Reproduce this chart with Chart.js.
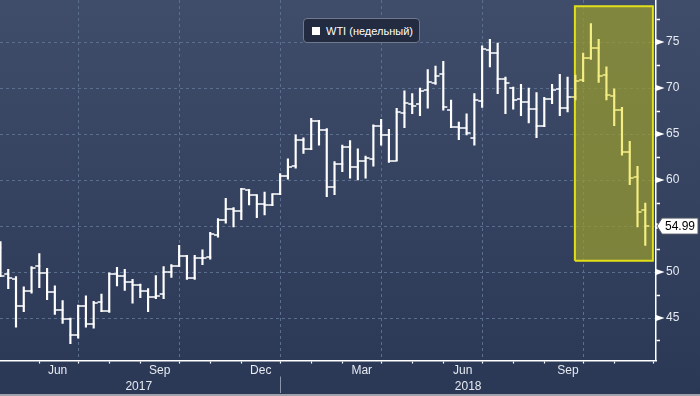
<!DOCTYPE html>
<html><head><meta charset="utf-8">
<script src="https://cdn.jsdelivr.net/npm/chart.js@4.4.1/dist/chart.umd.min.js"></script>
<style>
html,body{margin:0;padding:0;background:#2c3a57;}
#wrap{position:relative;width:700px;height:396px;overflow:hidden;}
#legend{position:absolute;left:303px;top:18px;width:117px;height:25px;box-sizing:border-box;border:1px solid #6f7a8f;border-radius:4px;background:#222b40;color:#ffffff;font:11px "Liberation Sans",Arial,sans-serif;display:flex;align-items:center;}
#legend .sw{display:inline-block;width:8px;height:8px;background:#ffffff;margin-left:8px;margin-right:6px;}
</style></head>
<body><div id="wrap"><canvas id="c" width="700" height="396"></canvas><div id="legend"><span class="sw"></span><span id="legtxt"></span></div></div>
<script>
const seriesName = 'WTI (недельный)';
// weekly OHLC, week 0 = week ending 21 Apr 2017
const opens = [52.6,49.8,49.2,46.3,47.9,50.6,49.9,47.8,45.9,44.9,
43.1,46.3,44.3,46.7,45.8,49.8,49.6,48.9,48.6,47.9,
47.3,47.6,50.0,50.7,51.7,49.3,51.5,51.6,54.0,55.7,
56.8,56.6,58.9,58.4,57.4,57.3,58.5,60.4,61.5,64.3,
63.4,66.4,65.4,59.2,61.7,63.6,61.4,62.1,62.3,65.9,
64.9,62.1,67.3,68.3,68.3,69.8,70.6,71.5,67.6,65.8,
65.7,64.6,68.6,74.1,73.8,71.0,70.0,68.8,68.5,67.7,
65.9,68.8,69.9,67.8,69.0,70.9,73.3,74.4,71.4,69.1,
67.6,63.1,60.3,56.7];
const highs = [53.3,50.3,49.5,48.4,50.6,52.0,50.4,48.5,46.9,45.0,
46.4,47.4,46.8,47.6,49.9,50.5,50.3,49.2,48.7,48.2,
49.6,50.6,50.8,52.9,51.8,51.8,52.4,54.3,55.8,58.0,
57.0,59.1,59.0,58.4,58.7,58.5,60.7,62.3,64.9,64.6,
66.7,66.5,65.6,62.0,63.8,64.3,63.4,62.6,66.0,66.6,
65.5,67.8,69.7,69.4,70.0,72.0,72.4,72.9,68.7,66.3,
67.2,69.4,74.6,75.3,74.9,71.2,70.1,70.4,70.0,69.5,
69.0,70.4,71.5,71.2,71.4,73.8,77.0,75.3,72.3,69.9,
67.9,64.2,61.5,57.5];
const lows = [49.5,48.2,44.0,45.7,47.7,48.3,47.0,45.4,44.4,42.2,
42.8,44.0,43.9,45.7,45.6,48.5,48.0,46.6,47.2,45.7,
47.1,47.1,49.4,50.6,49.2,49.2,50.8,51.4,53.8,55.3,
54.9,55.7,57.3,55.9,56.2,57.2,58.4,60.1,61.3,62.9,
63.3,63.8,58.2,58.4,60.9,60.2,60.0,60.2,61.5,63.8,
61.9,62.1,65.7,67.2,67.0,67.8,70.4,67.6,65.7,64.4,
64.9,63.8,67.9,72.3,69.4,67.2,67.7,67.0,66.2,64.6,
65.8,68.3,67.0,67.4,68.7,70.7,73.1,70.6,68.7,65.9,
62.7,59.5,54.9,52.9];
const closes = [49.6,49.4,46.3,47.9,50.4,49.9,47.8,45.9,44.9,43.1,
46.3,44.3,46.6,45.8,49.8,49.6,48.9,48.6,47.9,47.3,
47.4,50.0,50.7,51.7,49.3,51.5,51.5,54.1,55.7,56.8,
56.6,59.0,58.4,57.4,57.3,58.5,60.4,61.4,64.3,63.4,
66.4,65.4,59.2,61.7,63.6,61.4,62.1,62.4,65.9,64.9,
62.1,67.4,68.4,68.1,69.7,70.7,71.3,67.9,65.8,65.7,
65.1,68.7,74.2,73.8,71.0,70.6,68.7,68.5,67.7,65.9,
68.8,69.8,67.8,69.0,70.8,73.3,74.3,71.3,69.2,67.6,
63.1,60.2,56.5,54.99];
const monthTickWeeks = [5,10,14,18,23,27,31,36,40,44,49,53,57,62,66,70,75,79,84];
const quarterTickWeeks = [10,23,36,49,62,75];
const monthLabels = ['Jun','Sep','Dec','Mar','Jun','Sep'];
const monthLabelWeeks = [7.35,20.5,33.5,46.5,59.5,73.05];
const yearLabels = ['2017','2018'];
const yearLabelWeeks = [17.8,60.2];
const yearBreakWeek = 36;
const priceTickValues = [42.5,45,47.5,50,52.5,55,57.5,60,62.5,65,67.5,70,72.5,75,77.5];
const highlightWeeks = [73.94, 83.98];
const highlightPrices = [51.23, 78.9];
const highlightFromWeek = 74;

const FONT = "'Liberation Sans', Arial, sans-serif";
const gridColor = '#5a6f8e';
const WHITE = '#ffffff', YEL = '#f4ee84';
document.getElementById('legtxt').textContent = seriesName;

function tickImg(color, side){
  const c = document.createElement('canvas'); c.width = 10; c.height = 2;
  const g = c.getContext('2d'); g.fillStyle = color;
  if (side === 'open') g.fillRect(1,0.25,4.6,1.5); else g.fillRect(4.4,0.25,4.6,1.5);
  return c;
}
const imgs = {ow: tickImg(WHITE,'open'), cw: tickImg(WHITE,'close'), oy: tickImg(YEL,'open'), cy: tickImg(YEL,'close')};
const idx = opens.map((_, i) => i);
const inBox = i => i >= highlightFromWeek;

const deco = {
  id: 'deco',
  beforeDraw(chart){
    const {ctx, width, height} = chart;
    const g = ctx.createLinearGradient(0,0,0,height);
    g.addColorStop(0,'#3f4d6b'); g.addColorStop(1,'#2a3856');
    ctx.save(); ctx.fillStyle = g; ctx.fillRect(0,0,width,height);
    ctx.fillStyle = '#9ea2ab'; ctx.fillRect(0,height-2,width,2); ctx.restore();
  },
  afterDraw(chart){
    const {ctx, height} = chart; const ys = chart.scales.y, xs = chart.scales.x, xy = chart.scales.xy;
    ctx.save();
    ctx.fillStyle = '#ffffff';
    priceTickValues.filter(v => v % 5 === 0).forEach(v => {
      const y = ys.getPixelForValue(v);
      ctx.beginPath(); ctx.moveTo(ys.left, y-3); ctx.lineTo(ys.left+8.5, y); ctx.lineTo(ys.left, y+3); ctx.closePath(); ctx.fill();
    });
    const xb = Math.round(xs.getPixelForValue(yearBreakWeek)) + 0.5;
    ctx.strokeStyle = '#8b95a8'; ctx.lineWidth = 1;
    ctx.beginPath(); ctx.moveTo(xb, xy.top - 1); ctx.lineTo(xb, height - 3); ctx.stroke();
    const last = closes[closes.length-1]; const ty = ys.getPixelForValue(last);
    const L = ys.left + 1;
    ctx.beginPath(); ctx.moveTo(L, ty); ctx.lineTo(L+5, ty-8); ctx.lineTo(698, ty-8); ctx.lineTo(698, ty+8); ctx.lineTo(L+5, ty+8); ctx.closePath();
    ctx.fillStyle = '#ffffff'; ctx.fill(); ctx.strokeStyle = '#555b66'; ctx.lineWidth = 1; ctx.stroke();
    ctx.fillStyle = '#000000'; ctx.font = '12px ' + FONT; ctx.textBaseline = 'middle'; ctx.textAlign = 'left';
    ctx.fillText(last.toFixed(2), L + 8, ty + 0.5);
    ctx.restore();
  }
};

new Chart(document.getElementById('c'), {
  type: 'scatter',
  data: { datasets: [
    { type:'line', label:'box', data:[{x:highlightWeeks[0], y:highlightPrices[1]},{x:highlightWeeks[1], y:highlightPrices[1]}],
      fill:{value: highlightPrices[0]}, backgroundColor:'rgba(154,156,46,0.72)', borderWidth:0, pointRadius:0, order:10 },
    { type:'line', label:'boxBorder', data:[{x:highlightWeeks[0],y:highlightPrices[0]},{x:highlightWeeks[0],y:highlightPrices[1]},{x:highlightWeeks[1],y:highlightPrices[1]},{x:highlightWeeks[1],y:highlightPrices[0]},{x:highlightWeeks[0],y:highlightPrices[0]}],
      fill:false, borderColor:'#e2de18', borderWidth:2, pointRadius:0, tension:0, borderJoinStyle:'miter', order:9 },
    { type:'bar', label:seriesName, data: idx.map(i => ({x:i, y:[lows[i], highs[i]]})),
      backgroundColor: c => inBox(c.dataIndex) ? YEL : WHITE, borderWidth:0, barThickness:1.5, order:2 },
    { type:'scatter', label:'open', data: idx.map(i => ({x:i, y:opens[i]})),
      pointStyle: c => inBox(c.dataIndex) ? imgs.oy : imgs.ow, pointRadius:3, order:1 },
    { type:'scatter', label:'close', data: idx.map(i => ({x:i, y:closes[i]})),
      pointStyle: c => inBox(c.dataIndex) ? imgs.cy : imgs.cw, pointRadius:3, order:1 }
  ]},
  options: {
    responsive:false, devicePixelRatio:1, animation:false,
    layout:{padding:0, autoPadding:false},
    plugins:{legend:{display:false}, tooltip:{enabled:false}},
    scales:{
      x:{ type:'linear', position:'bottom', min:-0.06, max:84.38, offset:false, weight:0,
        afterBuildTicks: s => { s.ticks = monthTickWeeks.map(v => ({value:v})); },
        ticks:{display:false, autoSkip:false},
        grid:{display:true, offset:false, drawOnChartArea:true, drawTicks:true, tickLength:3,
          color: c => (c.tick && quarterTickWeeks.includes(c.tick.value)) ? gridColor : 'rgba(0,0,0,0)',
          lineWidth:1, tickColor:'#ffffff', tickWidth:1.2},
        border:{display:true, color:'#ffffff', width:1.5, dash:[3,3]},
        afterFit: s => { s.height = 3; s.paddingLeft = 0; s.paddingRight = 0; } },
      xm:{ type:'linear', axis:'x', position:'bottom', min:-0.06, max:84.38, offset:false, weight:1,
        afterBuildTicks: s => { s.ticks = monthLabelWeeks.map(v => ({value:v})); },
        ticks:{autoSkip:false, maxRotation:0, minRotation:0, padding:0, color:'#e6eaf1', font:{family:FONT, size:12},
          callback: v => monthLabels[monthLabelWeeks.indexOf(v)] || ''},
        grid:{display:false, drawTicks:false, drawOnChartArea:false}, border:{display:false},
        afterFit: s => { s.height = 14; s.paddingLeft = 0; s.paddingRight = 0; } },
      xy:{ type:'linear', axis:'x', position:'bottom', min:-0.06, max:84.38, offset:false, weight:2,
        afterBuildTicks: s => { s.ticks = yearLabelWeeks.map(v => ({value:v})); },
        ticks:{autoSkip:false, maxRotation:0, minRotation:0, padding:2, color:'#e6eaf1', font:{family:FONT, size:12},
          callback: v => yearLabels[yearLabelWeeks.indexOf(v)] || ''},
        grid:{display:false, drawTicks:false, drawOnChartArea:false}, border:{display:false},
        afterFit: s => { s.height = 18.5; s.paddingLeft = 0; s.paddingRight = 0; } },
      y:{ type:'linear', position:'right', min:40.38, max:79.57,
        afterBuildTicks: s => { s.ticks = priceTickValues.map(v => ({value:v})); },
        ticks:{autoSkip:false, padding:6, crossAlign:'near', color:'#e6eaf1', font:{family:FONT, size:12},
          callback: v => (v % 5 === 0) ? String(v) : ''},
        grid:{display:true, drawOnChartArea:true, drawTicks:true, tickLength:4,
          color: c => (c.tick && c.tick.value % 5 === 0) ? gridColor : 'rgba(0,0,0,0)',
          tickColor: c => (c.tick && c.tick.value % 5 === 0) ? 'rgba(0,0,0,0)' : '#ffffff', tickWidth:1.5, lineWidth:1},
        border:{display:true, color:'#ffffff', width:1.5, dash:[3,3]},
        afterFit: s => { s.width = 44; s.paddingTop = 0; s.paddingBottom = 0; } }
    }
  },
  plugins:[deco]
});
</script>
</body></html>
